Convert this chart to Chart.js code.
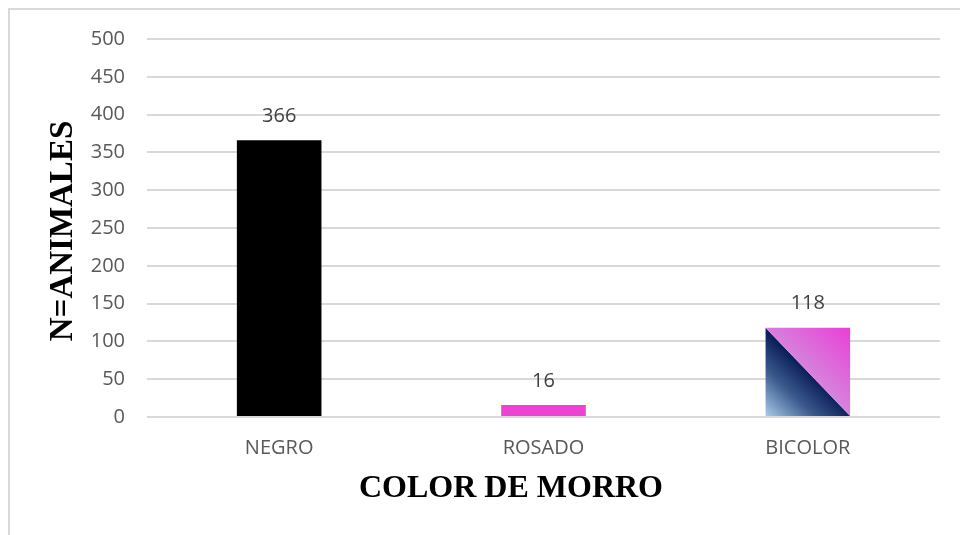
<!DOCTYPE html>
<html>
<head>
<meta charset="utf-8">
<script src="https://cdn.jsdelivr.net/npm/chart.js@4.4.1/dist/chart.umd.min.js"></script>
<style>
  html, body { margin: 0; padding: 0; background: #fff; }
  #wrap { position: relative; width: 960px; height: 535px; }
  #frame { position: absolute; left: 8px; top: 8px; width: 960px; height: 540px;
           border-left: 2px solid #d9d9d9; border-top: 2px solid #d9d9d9; box-sizing: border-box; }
  canvas { position: absolute; left: 0; top: 0; }
</style>
</head>
<body>
<div id="wrap">
  <div id="frame"></div>
  <canvas id="morroChart" width="960" height="535"></canvas>
</div>
<script>
// ===== data =====
const categories = ["NEGRO", "ROSADO", "BICOLOR"];
const counts = [366, 16, 118];
const yTicks = [0, 50, 100, 150, 200, 250, 300, 350, 400, 450, 500];

const xTitle = "COLOR DE MORRO";
const yTitle = "N=ANIMALES";

const TICK_FONT = { family: "'Open Sans', sans-serif", size: 20 };
const TITLE_FAMILY = "'Liberation Serif', 'Times New Roman', serif";

// bicolor bar: two triangles split on the diagonal, read from the bar's own element
const bicolorPlugin = {
  id: "bicolor",
  afterDatasetsDraw(chart) {
    const bar = chart.getDatasetMeta(0).data[2];
    if (!bar) return;
    const { x, y, base, width } = bar.getProps(["x", "y", "base", "width"], true);
    const l = x - width / 2, r = x + width / 2;
    const c = chart.ctx;
    c.save();
    // lower-left: navy fading to light blue at the corner
    let g = c.createLinearGradient(l, base, x, (y + base) / 2);
    g.addColorStop(0, "#a9cbea");
    g.addColorStop(0.55, "#3b5a8e");
    g.addColorStop(1, "#0b1f5a");
    c.fillStyle = g;
    c.beginPath();
    c.moveTo(l, y); c.lineTo(r, base); c.lineTo(l, base); c.closePath();
    c.fill();
    // upper-right: pink, lighter toward the diagonal
    g = c.createLinearGradient(r, y, x, (y + base) / 2);
    g.addColorStop(0, "#ea3fd6");
    g.addColorStop(1, "#d682dc");
    c.fillStyle = g;
    c.beginPath();
    c.moveTo(l, y); c.lineTo(r, y); c.lineTo(r, base); c.closePath();
    c.fill();
    c.restore();
  }
};

// value labels above the bars + axis titles
const labelsPlugin = {
  id: "labels",
  afterDraw(chart) {
    const c = chart.ctx;
    const meta = chart.getDatasetMeta(0);
    c.save();
    c.fillStyle = "#404040";
    c.font = `${TICK_FONT.size}px ${TICK_FONT.family}`;
    c.textAlign = "center";
    c.textBaseline = "bottom";
    meta.data.forEach((bar, i) => {
      c.fillText(String(counts[i]), bar.x, bar.y - 14);
    });

    c.fillStyle = "#000";
    c.font = `bold 32px ${TITLE_FAMILY}`;
    c.textBaseline = "middle";
    c.fillText(xTitle, 511, 489);

    c.translate(63, (chart.chartArea.top + chart.chartArea.bottom) / 2 + 3);
    c.rotate(-Math.PI / 2);
    c.font = `bold 33px ${TITLE_FAMILY}`;
    c.fillText(yTitle, 0, 0);
    c.restore();
  }
};

const chart = new Chart(document.getElementById("morroChart"), {
  type: "bar",
  data: {
    labels: categories,
    datasets: [{
      data: counts,
      backgroundColor: ["#000000", "#ee42d4", "rgba(0,0,0,0)"],
      borderWidth: 0,
      categoryPercentage: 1,
      barPercentage: 0.32
    }]
  },
  options: {
    responsive: false,
    animation: false,
    layout: { padding: { top: 39, right: 20, left: 0, bottom: 0 } },
    plugins: { legend: { display: false }, tooltip: { enabled: false } },
    scales: {
      x: {
        grid: { display: false },
        border: { display: false },
        ticks: { color: "#595959", font: TICK_FONT, padding: 11 },
        afterFit(s) { s.height = 118; }
      },
      y: {
        min: 0, max: 500,
        afterBuildTicks(s) { s.ticks = yTicks.map(v => ({ value: v })); },
        grid: { color: "#d9d9d9", lineWidth: 2, drawTicks: false },
        border: { display: false },
        ticks: { color: "#595959", font: TICK_FONT, padding: 22 },
        afterFit(s) { s.width = 147; }
      }
    }
  },
  plugins: [bicolorPlugin, labelsPlugin]
});
</script>
</body>
</html>
